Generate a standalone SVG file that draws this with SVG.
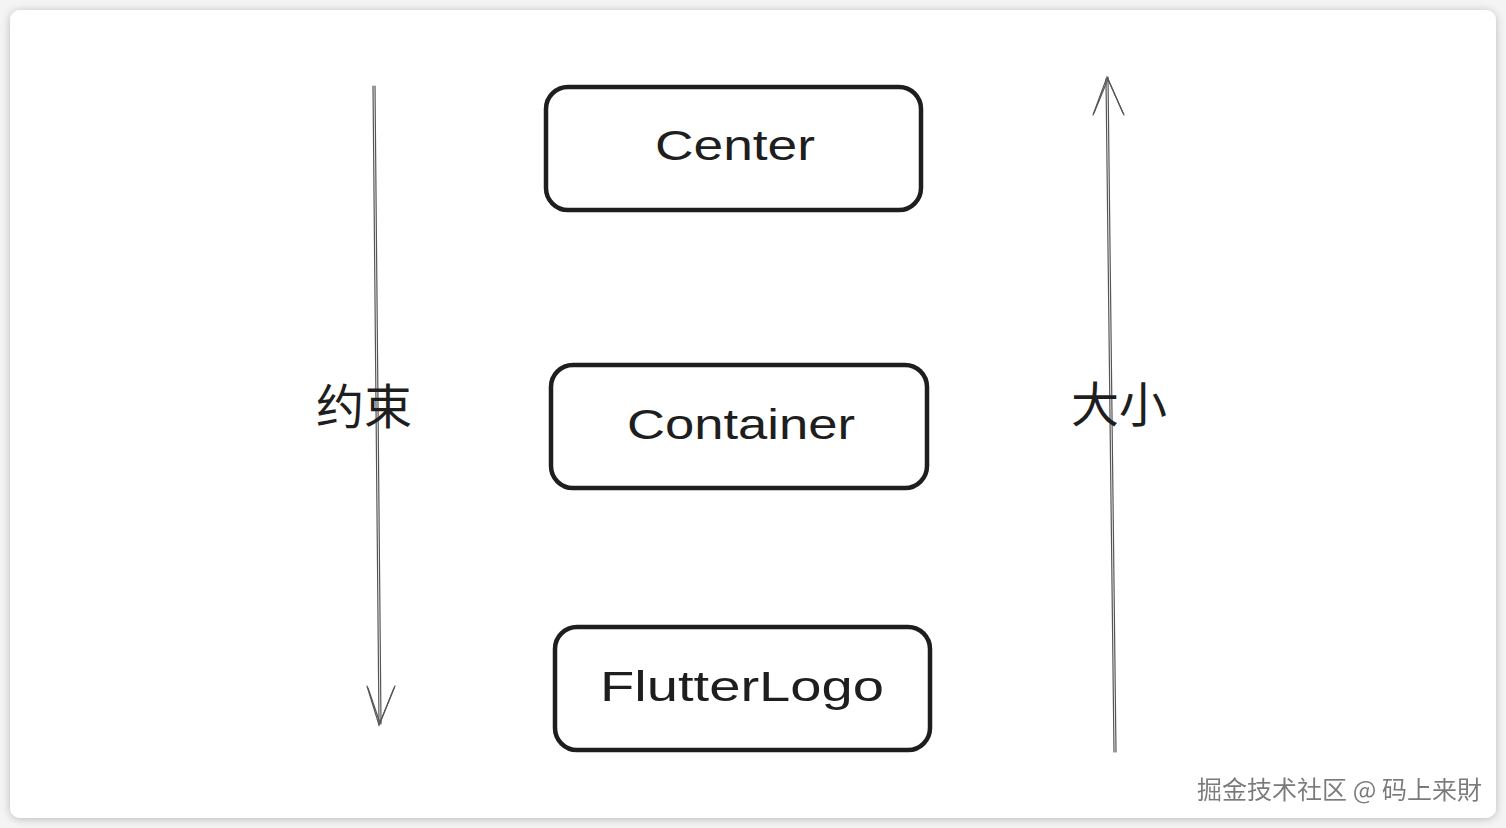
<svg xmlns="http://www.w3.org/2000/svg" width="1506" height="828" viewBox="0 0 1506 828">
<defs>
<filter id="sh" x="-5%" y="-5%" width="110%" height="110%">
<feGaussianBlur in="SourceAlpha" stdDeviation="4"/>
<feOffset dx="0" dy="1"/>
<feComponentTransfer><feFuncA type="linear" slope="0.25"/></feComponentTransfer>
<feMerge><feMergeNode/><feMergeNode in="SourceGraphic"/></feMerge>
</filter>
<filter id="ts"><feOffset in="SourceAlpha" dx="1" dy="1" result="o"/><feFlood flood-color="#ffffff"/><feComposite in2="o" operator="in"/><feMerge><feMergeNode/><feMergeNode in="SourceGraphic"/></feMerge></filter>
</defs>
<style>
.box{fill:#ffffff;stroke:#1e1e1e;stroke-width:4.5;}
.lbl{font-family:"Liberation Sans","Noto Sans",sans-serif;font-size:42px;fill:#1e1e1e;text-anchor:middle;}
.cjk{font-family:"Noto Sans CJK SC",sans-serif;font-size:48px;fill:#1e1e1e;text-anchor:middle;}
.ln{stroke:#555555;stroke-width:1.2;fill:none;stroke-linecap:round;}
.wm{font-family:"Noto Sans CJK SC",sans-serif;font-size:25px;fill:#7a7a7a;}
</style>
<rect width="1506" height="828" fill="#f4f4f4"/>
<rect x="10" y="10" width="1486" height="808" rx="10" fill="#ffffff" filter="url(#sh)"/>
<g id="connectors">
<g id="arrow-down">
<path class="ln" d="M373 86 L379 725"/>
<path class="ln" d="M375 86 L381 724"/>
<path class="ln" d="M367 686 L379 725 L395 686"/>
<path class="ln" d="M368 688 L380 723 L394 688"/>
</g>
<g id="arrow-up">
<path class="ln" d="M1116 752 L1108 77"/>
<path class="ln" d="M1114 752 L1106 79"/>
<path class="ln" d="M1093 115 L1107 77 L1124 115"/>
<path class="ln" d="M1094 113 L1108 79 L1123 113"/>
</g>
</g>
<g id="center">
<rect class="box" x="546" y="87" width="375" height="123" rx="22"/>
<text class="lbl" x="735" y="160" textLength="160" lengthAdjust="spacingAndGlyphs">Center</text>
</g>
<g id="container">
<rect class="box" x="551" y="365" width="376" height="123" rx="22"/>
<text class="lbl" x="741" y="439" textLength="228" lengthAdjust="spacingAndGlyphs">Container</text>
</g>
<g id="flutterlogo">
<rect class="box" x="555" y="627" width="375" height="123" rx="22"/>
<text class="lbl" x="742" y="701" textLength="284" lengthAdjust="spacingAndGlyphs">FlutterLogo</text>
</g>
<g id="label-constraint"><text class="cjk" x="364" y="424">约束</text></g>
<g id="label-size"><text class="cjk" x="1119" y="422">大小</text></g>
<text class="wm" x="1197" y="799" textLength="285" lengthAdjust="spacingAndGlyphs" filter="url(#ts)">掘金技术社区 @ 码上来財</text>
</svg>
